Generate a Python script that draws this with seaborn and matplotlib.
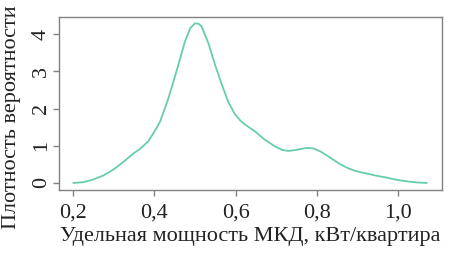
import matplotlib
matplotlib.use("Agg")
import matplotlib.pyplot as plt
import matplotlib.ticker as mticker
import seaborn as sns
import pandas as pd

# density curve
x_vals = [0.200, 0.225, 0.249, 0.274, 0.299, 0.323, 0.348, 0.364, 0.385, 0.401,
          0.414, 0.422, 0.432, 0.442, 0.459, 0.475, 0.488, 0.500, 0.508, 0.516,
          0.533, 0.549, 0.566, 0.582, 0.598, 0.612, 0.623, 0.648, 0.672, 0.697,
          0.714, 0.730, 0.745, 0.759, 0.775, 0.790, 0.808, 0.823, 0.841, 0.858,
          0.874, 0.890, 0.907, 0.928, 0.948, 0.969, 0.989, 1.010, 1.030, 1.050,
          1.071]
y_vals = [0.00, 0.02, 0.09, 0.20, 0.36, 0.56, 0.79, 0.91, 1.12, 1.40,
          1.65, 1.90, 2.20, 2.55, 3.18, 3.80, 4.16, 4.29, 4.28, 4.21,
          3.75, 3.18, 2.64, 2.17, 1.85, 1.67, 1.57, 1.38, 1.16, 0.98,
          0.89, 0.86, 0.88, 0.91, 0.94, 0.93, 0.85, 0.75, 0.62, 0.50,
          0.41, 0.34, 0.29, 0.24, 0.19, 0.15, 0.10, 0.06, 0.03, 0.01,
          0.00]

xticks = [0.2, 0.4, 0.6, 0.8, 1.0]
yticks = [0, 1, 2, 3, 4]
xlabel = "Удельная мощность МКД, кВт/квартира"
ylabel = "Плотность вероятности"

df = pd.DataFrame({"x": x_vals, "y": y_vals})

sns.set_style("white")
plt.rcParams['font.family'] = ['Liberation Serif', 'DejaVu Serif']

fig = plt.figure(figsize=(4.55, 2.56), dpi=100)
ax = fig.add_axes([0.1297, 0.2578, 0.8417, 0.6758])

sns.lineplot(data=df, x="x", y="y", color="#66CDAA", linewidth=1.3, ax=ax)

ax.set_xlim(0.165, 1.108)
ax.set_ylim(-0.19, 4.46)
ax.set_xticks(xticks)
ax.set_yticks(yticks)
ax.xaxis.set_major_formatter(mticker.FuncFormatter(lambda v, p: f"{v:.1f}".replace(".", ",")))
ax.yaxis.set_major_formatter(mticker.FuncFormatter(lambda v, p: f"{v:.0f}"))

for s in ax.spines.values():
    s.set_visible(True)
    s.set_color("#808080")
    s.set_linewidth(1.0)

ax.tick_params(axis="both", direction="out", length=4, width=1.0, color="#808080",
               labelsize=16, labelcolor="#222222", bottom=True, left=True)
ax.tick_params(axis="x", pad=6)
ax.tick_params(axis="y", pad=2)
for lab in ax.get_yticklabels():
    lab.set_rotation(90)
    lab.set_va("center")

ax.set_xlabel(xlabel, fontsize=16, color="#222222", labelpad=3)
ax.set_ylabel(ylabel, fontsize=16, color="#222222")
ax.yaxis.set_label_coords(-0.10, 0.42)

fig.savefig("out.png", dpi=100)
